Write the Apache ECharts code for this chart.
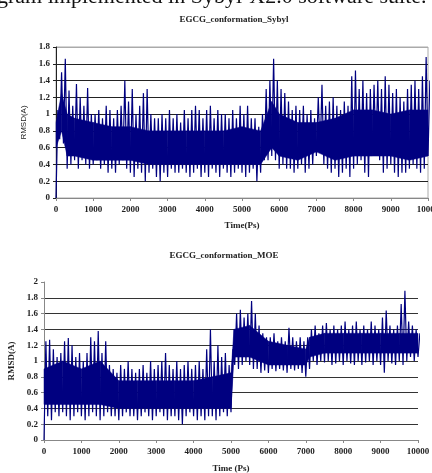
<!DOCTYPE html>
<html>
<head>
<meta charset="utf-8">
<script src="https://cdn.jsdelivr.net/npm/echarts@6/dist/echarts.min.js"></script>
<style>
  html, body { margin: 0; padding: 0; background: #fff; }
  #chart { width: 432px; height: 473px; }
</style>
</head>
<body>
<div id="chart"></div>
<script>
// time step between samples (ps)
const step = 100

// EGCG_conformation_Sybyl: upper / lower envelope every 100 ps
const sybylHi = [
  1.05, 1.5, 1.66, 1.28, 1.1, 1.36, 1.2, 1.1, 1.31, 1.0,
  1.0, 1.05, 0.95, 1.1, 1.05, 0.95, 1.05, 1.1, 1.4, 1.15,
  1.3, 1.0, 1.1, 1.25, 1.3, 1.0, 0.95, 0.95, 1.0, 0.95,
  1.05, 0.95, 1.0, 0.9, 1.05, 0.95, 1.05, 1.1, 1.05, 0.95,
  1.05, 1.1, 0.95, 1.05, 1.0, 1.0, 0.95, 1.05, 0.95, 1.1,
  1.0, 1.1, 0.95, 0.95, 0.85, 1.0, 1.3, 1.4, 1.66, 1.4,
  1.3, 1.25, 1.15, 1.05, 1.1, 1.05, 1.1, 1.0, 1.05, 0.95,
  1.2, 1.35, 1.1, 1.15, 1.2, 1.1, 1.05, 1.15, 1.1, 1.45,
  1.52, 1.3, 1.4, 1.25, 1.3, 1.35, 1.4, 1.3, 1.45, 1.35,
  1.25, 1.3, 1.2, 1.15, 1.3, 1.35, 1.4, 1.3, 1.45, 1.68,
  1.4
]
const sybylLo = [
  0, 0.7, 0.65, 0.35, 0.4, 0.45, 0.35, 0.45, 0.4, 0.35,
  0.4, 0.45, 0.35, 0.4, 0.3, 0.35, 0.3, 0.4, 0.45, 0.35,
  0.3, 0.25, 0.35, 0.3, 0.2, 0.3, 0.35, 0.25, 0.2, 0.3,
  0.25, 0.35, 0.3, 0.3, 0.35, 0.3, 0.25, 0.3, 0.35, 0.25,
  0.3, 0.25, 0.35, 0.3, 0.25, 0.35, 0.3, 0.25, 0.3, 0.35,
  0.3, 0.25, 0.3, 0.35, 0.2, 0.3, 0.45, 0.45, 0.5, 0.45,
  0.35, 0.4, 0.35, 0.35, 0.3, 0.35, 0.4, 0.3, 0.35, 0.4,
  0.5, 0.55, 0.4, 0.35, 0.3, 0.35, 0.25, 0.3, 0.35, 0.25,
  0.35, 0.4, 0.45, 0.3, 0.25, 0.5, 0.55, 0.45, 0.3, 0.35,
  0.4, 0.3, 0.25, 0.3, 0.3, 0.35, 0.4, 0.35, 0.3, 0.35,
  0.5
]
// solid core of the Sybyl trace
const sybylCoreTime = [0, 150, 300, 500, 1000, 1500, 2000, 2500, 3000, 3500, 4000, 4500, 5000, 5500, 5800, 6000, 6500, 7000, 7500, 8000, 8500, 9000, 9500, 10000]
const sybylCoreHi = [0.9, 1.25, 1.0, 0.95, 0.9, 0.85, 0.85, 0.8, 0.8, 0.8, 0.8, 0.8, 0.85, 0.8, 1.15, 1.0, 0.9, 0.9, 0.95, 1.05, 1.05, 1.0, 1.05, 1.05]
const sybylCoreLo = [0.6, 0.8, 0.5, 0.5, 0.45, 0.45, 0.45, 0.4, 0.4, 0.4, 0.4, 0.4, 0.4, 0.4, 0.6, 0.5, 0.45, 0.55, 0.45, 0.5, 0.5, 0.5, 0.45, 0.5]

// EGCG_conformation_MOE
const moeHi = [
  1.25, 1.27, 1.15, 1.05, 1.1, 1.25, 1.29, 1.2, 1.05, 1.1,
  1.0, 1.1, 1.3, 1.25, 1.38, 1.1, 1.25, 0.95, 0.9, 0.85,
  0.95, 0.9, 1.0, 0.9, 0.85, 0.9, 0.95, 0.85, 1.0, 0.9,
  0.95, 1.0, 1.1, 0.95, 0.9, 1.0, 0.9, 0.95, 1.0, 0.9,
  0.95, 1.0, 0.9, 1.15, 1.4, 1.0, 1.2, 1.05, 1.1, 0.95,
  1.15, 1.6, 1.65, 1.55, 1.6, 1.76, 1.6, 1.45, 1.35, 1.3,
  1.3, 1.35, 1.25, 1.3, 1.25, 1.42, 1.3, 1.25, 1.3, 1.25,
  1.3, 1.4, 1.45, 1.35, 1.45, 1.48, 1.4, 1.45, 1.4, 1.45,
  1.5, 1.4, 1.45, 1.5, 1.4, 1.45, 1.4, 1.5, 1.45, 1.4,
  1.55, 1.64, 1.45, 1.4, 1.45, 1.72, 1.89, 1.5, 1.45, 1.4,
  1.35
]
const moeLo = [
  0, 0.3, 0.25, 0.35, 0.3, 0.35, 0.3, 0.25, 0.3, 0.35,
  0.3, 0.25, 0.3, 0.35, 0.3, 0.25, 0.3, 0.35, 0.3, 0.3,
  0.25, 0.3, 0.35, 0.3, 0.3, 0.25, 0.3, 0.35, 0.3, 0.25,
  0.3, 0.35, 0.3, 0.25, 0.3, 0.3, 0.25, 0.2, 0.3, 0.35,
  0.3, 0.25, 0.3, 0.25, 0.3, 0.3, 0.25, 0.3, 0.35, 0.3,
  0.35, 0.95, 0.9, 0.95, 1.0, 0.95, 0.9, 0.9, 0.85, 0.88,
  0.85, 0.9, 0.87, 0.9, 0.88, 0.85, 0.9, 0.88, 0.9, 0.85,
  0.8, 0.9, 1.0, 0.95, 1.0, 0.98, 1.0, 0.95, 0.97, 1.0,
  0.95, 1.0, 0.97, 0.95, 1.0, 0.95, 0.98, 1.0, 0.95, 1.0,
  0.95, 0.85, 1.0, 0.97, 0.95, 1.0, 0.95, 1.0, 1.05, 1.0,
  1.05
]
// solid core of the MOE trace
const moeCoreTime = [0, 500, 1000, 1500, 2000, 2500, 3000, 3500, 4000, 4500, 5000, 5080, 5500, 6000, 6500, 7000, 7100, 7500, 8000, 8500, 9000, 9500, 10000]
const moeCoreHi = [0.9, 1.0, 0.9, 1.0, 0.75, 0.75, 0.75, 0.75, 0.75, 0.8, 0.85, 1.4, 1.45, 1.25, 1.2, 1.15, 1.3, 1.35, 1.35, 1.35, 1.35, 1.35, 1.35]
const moeCoreLo = [0.45, 0.45, 0.45, 0.45, 0.4, 0.4, 0.4, 0.4, 0.4, 0.4, 0.4, 1.05, 1.05, 0.95, 0.95, 0.95, 1.05, 1.1, 1.1, 1.1, 1.1, 1.1, 1.1]

// alternate low / high samples so the dense band of the trace shows up
function toTrace(lo, hi) {
  const out = []
  for (let i = 0; i < lo.length; i++) {
    out.push([i * step, lo[i]])
    out.push([i * step + step / 2, hi[i]])
  }
  return out
}

const serif = 'Liberation Serif'
const tickFont = { fontFamily: serif, fontWeight: 'bold', fontSize: 9, color: '#222' }
const nameFont = { fontFamily: serif, fontWeight: 'bold', fontSize: 9, color: '#222' }
const lineColor = '#000080'
const plain = v => String(v)

// first and last split line drawn lighter (plot border / none)
const topSplit = ['#aaa', '#222', '#222', '#222', '#222', '#222', '#222', '#222', '#222', '#aaa']
const botSplit = ['#888', '#333', '#333', '#333', '#333', '#333', '#333', '#333', '#333', '#333', 'rgba(0,0,0,0)']

// core band: each item draws the quad up to the next sample
function coreSeries(idx, times, lo, hi) {
  return {
    type: 'custom', xAxisIndex: idx, yAxisIndex: idx, z: 1,
    data: times.map((t, i) => [t, lo[i], hi[i]]),
    renderItem: (params, api) => {
      const i = params.dataIndex
      if (i >= times.length - 1) return null
      const a = api.coord([times[i], lo[i]])
      const b = api.coord([times[i + 1], lo[i + 1]])
      const c = api.coord([times[i + 1], hi[i + 1]])
      const d = api.coord([times[i], hi[i]])
      return {
        type: 'polygon',
        shape: { points: [a, b, c, d] },
        style: { fill: lineColor, stroke: lineColor, lineWidth: 0.5 }
      }
    },
    encode: { x: 0, y: [1, 2] }
  }
}

const chart = echarts.init(document.getElementById('chart'))
chart.setOption({
  animation: false,
  backgroundColor: '#fff',
  graphic: [{
    type: 'text',
    left: -3,
    top: -14,
    style: { text: 'gram implemented in Sybyl-X2.0 software suite.', font: '22px "Liberation Serif"', fill: '#111' }
  }],
  title: [
    {
      text: 'EGCG_conformation_Sybyl',
      left: 229, top: 10, textAlign: 'center',
      textStyle: nameFont
    },
    {
      text: 'EGCG_conformation_MOE',
      left: 219, top: 246, textAlign: 'center',
      textStyle: nameFont
    }
  ],
  grid: [
    { left: 56, top: 47, width: 372, height: 151, show: true, borderColor: '#aaa', borderWidth: 1, outerBoundsMode: 'none', containLabel: false },
    { left: 44, top: 282, width: 374, height: 158, outerBoundsMode: 'none', containLabel: false }
  ],
  xAxis: [
    {
      gridIndex: 0, type: 'value', min: 0, max: 10000, interval: 1000,
      name: 'Time(Ps)', nameLocation: 'middle', nameGap: 23, nameTextStyle: nameFont,
      axisLine: { lineStyle: { color: '#888' } },
      axisTick: { show: true, length: 3, lineStyle: { color: '#888' } },
      axisLabel: Object.assign({ margin: 7, showMaxLabel: true, formatter: plain }, tickFont),
      splitLine: { show: false }
    },
    {
      gridIndex: 1, type: 'value', min: 0, max: 10000, interval: 1000,
      name: 'Time (Ps)', nameLocation: 'middle', nameGap: 24, nameTextStyle: nameFont,
      axisLine: { lineStyle: { color: '#888' } },
      axisTick: { show: true, length: 3, lineStyle: { color: '#888' } },
      axisLabel: Object.assign({ margin: 7, showMaxLabel: true, formatter: plain }, tickFont),
      splitLine: { show: false }
    }
  ],
  yAxis: [
    {
      gridIndex: 0, type: 'value', min: 0, max: 1.8, interval: 0.2,
      name: 'RMSD(A)', nameLocation: 'middle', nameGap: 26,
      nameTextStyle: { fontFamily: 'Liberation Sans', fontSize: 8, color: '#222' },
      axisLine: { show: true, lineStyle: { color: '#222' } },
      axisTick: { show: true, length: 3, lineStyle: { color: '#222' } },
      axisLabel: Object.assign({ margin: 6 }, tickFont),
      splitLine: { show: true, lineStyle: { color: topSplit, width: 1 } }
    },
    {
      gridIndex: 1, type: 'value', min: 0, max: 2, interval: 0.2,
      name: 'RMSD(A)', nameLocation: 'middle', nameGap: 28, nameTextStyle: nameFont,
      axisLine: { show: true, lineStyle: { color: '#888' } },
      axisTick: { show: true, length: 3, lineStyle: { color: '#888' } },
      axisLabel: Object.assign({ margin: 6 }, tickFont),
      splitLine: { show: true, lineStyle: { color: botSplit, width: 1 } }
    }
  ],
  series: [
    coreSeries(0, sybylCoreTime, sybylCoreLo, sybylCoreHi),
    coreSeries(1, moeCoreTime, moeCoreLo, moeCoreHi),
    {
      type: 'line', xAxisIndex: 0, yAxisIndex: 0,
      data: toTrace(sybylLo, sybylHi),
      showSymbol: false, symbol: 'none', z: 2,
      lineStyle: { color: lineColor, width: 1.2 }
    },
    {
      type: 'line', xAxisIndex: 1, yAxisIndex: 1,
      data: toTrace(moeLo, moeHi),
      showSymbol: false, symbol: 'none', z: 2,
      lineStyle: { color: lineColor, width: 1.2 }
    }
  ]
})
</script>
</body>
</html>
